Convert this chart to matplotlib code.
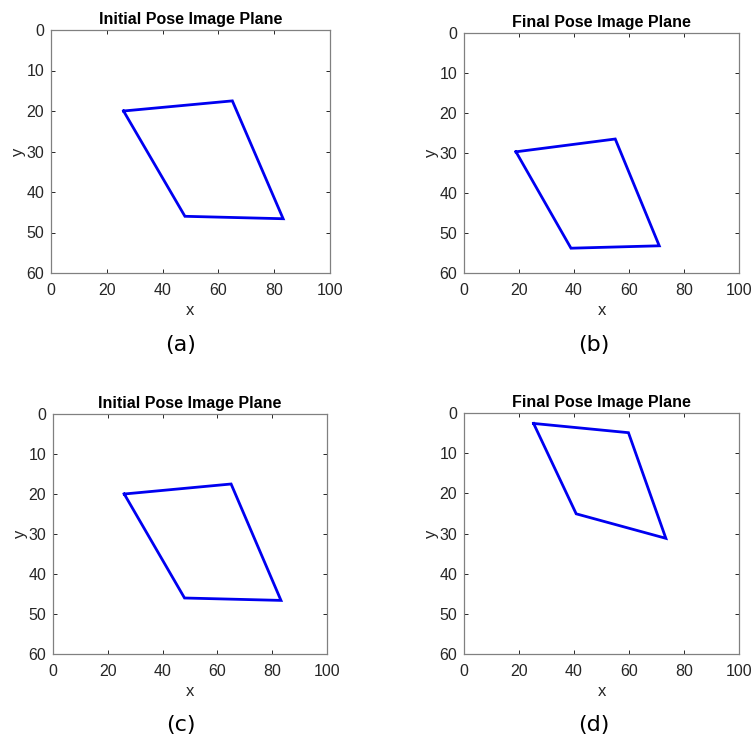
import matplotlib.pyplot as plt

# corner points of the projected square (image plane, pixels)
init_x = [26, 65, 83.2, 48, 26]
init_y = [20, 17.5, 46.6, 46, 20]

final_b_x = [18.9, 55, 71, 38.9, 18.9]
final_b_y = [29.7, 26.5, 53.2, 53.8, 29.7]

final_d_x = [25.3, 59.8, 73.4, 40.8, 25.3]
final_d_y = [2.6, 4.9, 31.2, 25.1, 2.6]

titles = ["Initial Pose Image Plane", "Final Pose Image Plane",
          "Initial Pose Image Plane", "Final Pose Image Plane"]
tags = ["(a)", "(b)", "(c)", "(d)"]
xticks = [0, 20, 40, 60, 80, 100]
yticks = [0, 10, 20, 30, 40, 50, 60]

W, H = 752, 740
# axes boxes in pixels: left, top, right, bottom
boxes = [(51, 30, 330, 273), (464, 33, 739, 273),
         (53, 414, 327, 654), (464, 413, 739, 654)]
tag_pos = [(181, 345), (594, 345), (181, 725), (594, 725)]
data = [(init_x, init_y), (final_b_x, final_b_y),
        (init_x, init_y), (final_d_x, final_d_y)]

grey = "#262626"
plt.rcParams['font.family'] = ['Liberation Sans', 'DejaVu Sans']

fig = plt.figure(figsize=(W / 100, H / 100), dpi=100)

for i in range(4):
    l, t, r, b = boxes[i]
    ax = fig.add_axes([l / W, 1 - b / H, (r - l) / W, (b - t) / H])
    xs, ys = data[i]
    ax.plot(xs, ys, color="#0000f0", lw=2.0, solid_joinstyle="miter")
    ax.set_xlim(0, 100)
    ax.set_ylim(60, 0)
    ax.set_xticks(xticks)
    ax.set_yticks(yticks)
    ax.tick_params(direction="in", top=True, right=True, length=3,
                   width=0.7, colors=grey, labelsize=11.5)
    ax.tick_params(axis="x", pad=7)
    ax.tick_params(axis="y", pad=5)
    for s in ax.spines.values():
        s.set_color("#808080")
        s.set_linewidth(0.9)
    ax.set_title(titles[i], fontsize=11.5, fontweight="bold", pad=4)
    ax.set_xlabel("x", fontsize=12, color=grey, labelpad=4)
    ax.set_ylabel("y", fontsize=12, color=grey, labelpad=0)
    fig.text(tag_pos[i][0] / W, 1 - tag_pos[i][1] / H, tags[i],
             fontsize=16, family="DejaVu Sans", ha="center", va="center")

fig.savefig("out.png", dpi=100)
